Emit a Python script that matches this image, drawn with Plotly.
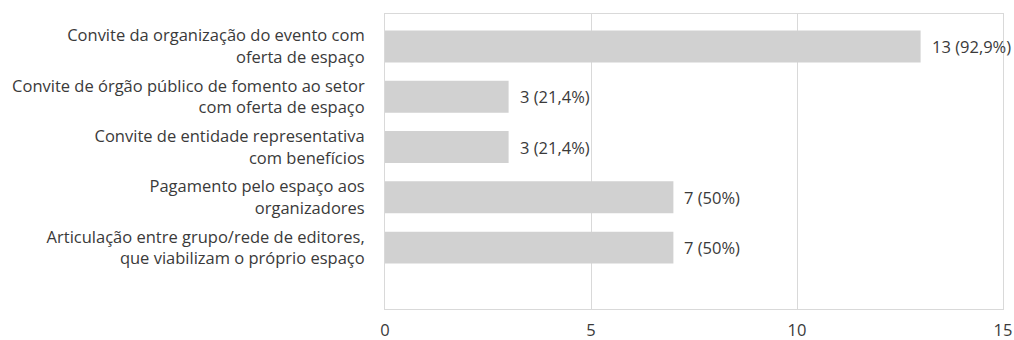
import plotly.graph_objects as go

categories = [
    "Convite da organização do evento com<br>oferta de espaço",
    "Convite de órgão público de fomento ao setor<br>com oferta de espaço",
    "Convite de entidade representativa<br>com benefícios",
    "Pagamento pelo espaço aos<br>organizadores",
    "Articulação entre grupo/rede de editores,<br>que viabilizam o próprio espaço",
]
counts = [13, 3, 3, 7, 7]
percent_labels = ["92,9%", "21,4%", "21,4%", "50%", "50%"]
x_ticks = [0, 5, 10, 15]

FONT = "Open Sans"
TEXT = "#3a3a3a"
GRID = "#d9d9d9"
SIZE = 16.5

positions = list(range(len(categories)))
bar_text = [f"{c} ({p})" for c, p in zip(counts, percent_labels)]

fig = go.Figure(
    go.Bar(
        x=counts,
        y=positions,
        orientation="h",
        width=0.635,
        marker=dict(color="#d1d1d1", line=dict(width=0)),
        hoverinfo="skip",
    )
)

# value labels placed just past the end of each bar
for pos, val, label in zip(positions, counts, bar_text):
    fig.add_annotation(
        x=val, y=pos, xref="x", yref="y",
        text=label, showarrow=False,
        xanchor="left", yanchor="middle", xshift=9,
        font=dict(family=FONT, size=SIZE, color=TEXT),
    )

fig.update_layout(
    width=1014,
    height=340,
    margin=dict(l=385, r=11, t=14, b=31),
    paper_bgcolor="white",
    plot_bgcolor="white",
    showlegend=False,
    font=dict(family=FONT, size=SIZE, color=TEXT),
    xaxis=dict(
        range=[0, 15],
        tickvals=x_ticks,
        ticktext=[str(v) for v in x_ticks],
        showgrid=True,
        gridcolor=GRID,
        gridwidth=1,
        zeroline=False,
        showline=True,
        linecolor=GRID,
        linewidth=1,
        mirror=True,
        ticks="",
        automargin=False,
        ticklabelstandoff=6,
        tickfont=dict(family=FONT, size=SIZE, color=TEXT),
    ),
    yaxis=dict(
        range=[5.22, -0.645],
        tickvals=positions,
        ticktext=categories,
        showgrid=False,
        zeroline=False,
        showline=True,
        linecolor=GRID,
        linewidth=1,
        mirror=True,
        ticks="",
        automargin=False,
        ticklabelstandoff=16,
        tickfont=dict(family=FONT, size=SIZE, color=TEXT),
    ),
)

fig.write_html("out.html")
